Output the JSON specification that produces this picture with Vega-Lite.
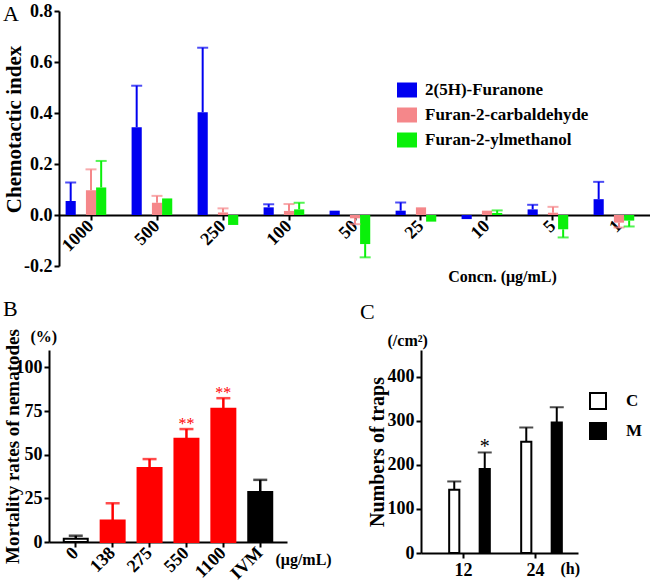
{
  "$schema": "https://vega.github.io/schema/vega-lite/v6.json",
  "padding": {"left": 1, "top": 2, "right": 0, "bottom": 0},
  "spacing": 14,
  "resolve": {"scale": {"color": "independent", "fill": "independent", "stroke": "independent"}, "legend": {"color": "independent", "fill": "independent", "stroke": "independent"}},
  "config": {
    "view": {"stroke": null},
    "font": "Liberation Serif",
    "axis": {
      "grid": false,
      "domainColor": "black", "domainWidth": 2,
      "tickColor": "black", "tickWidth": 2, "tickSize": 5,
      "labelFont": "Liberation Serif", "labelFontWeight": "bold", "labelFontSize": 18, "labelColor": "black", "labelPadding": 2,
      "titleFont": "Liberation Serif", "titleFontWeight": "bold", "titleFontSize": 19, "titleColor": "black",
      "zindex": 1
    },
    "legend": {"labelFont": "Liberation Serif", "labelFontWeight": "bold", "labelColor": "black", "labelLimit": 0},
    "title": {"font": "Liberation Serif", "fontWeight": "normal", "fontSize": 22, "color": "black", "anchor": "start"}
  },
  "vconcat": [
    {
      "spacing": 0,
      "resolve": {"scale": {"color": "independent"}},
      "hconcat": [
        {"width": 1, "height": 1, "data": {"values": []}, "mark": "point"},
        {
          "title": {"text": "A", "offset": -24},
          "width": 592, "height": 255,
          "data": {"values": [
            {"conc": "1000", "compound": "2(5H)-Furanone", "value": 0.055, "err": 0.127},
            {"conc": "1000", "compound": "Furan-2-carbaldehyde", "value": 0.097, "err": 0.179},
            {"conc": "1000", "compound": "Furan-2-ylmethanol", "value": 0.108, "err": 0.212},
            {"conc": "500", "compound": "2(5H)-Furanone", "value": 0.344, "err": 0.507},
            {"conc": "500", "compound": "Furan-2-carbaldehyde", "value": 0.048, "err": 0.075},
            {"conc": "500", "compound": "Furan-2-ylmethanol", "value": 0.065, "err": null},
            {"conc": "250", "compound": "2(5H)-Furanone", "value": 0.403, "err": 0.656},
            {"conc": "250", "compound": "Furan-2-carbaldehyde", "value": 0.010, "err": 0.026},
            {"conc": "250", "compound": "Furan-2-ylmethanol", "value": -0.039, "err": null},
            {"conc": "100", "compound": "2(5H)-Furanone", "value": 0.030, "err": 0.042},
            {"conc": "100", "compound": "Furan-2-carbaldehyde", "value": 0.016, "err": 0.043},
            {"conc": "100", "compound": "Furan-2-ylmethanol", "value": 0.022, "err": 0.048},
            {"conc": "50", "compound": "2(5H)-Furanone", "value": 0.017, "err": null},
            {"conc": "50", "compound": "Furan-2-carbaldehyde", "value": -0.013, "err": -0.036},
            {"conc": "50", "compound": "Furan-2-ylmethanol", "value": -0.114, "err": -0.166},
            {"conc": "25", "compound": "2(5H)-Furanone", "value": 0.017, "err": 0.049},
            {"conc": "25", "compound": "Furan-2-carbaldehyde", "value": 0.030, "err": null},
            {"conc": "25", "compound": "Furan-2-ylmethanol", "value": -0.026, "err": null},
            {"conc": "10", "compound": "2(5H)-Furanone", "value": -0.016, "err": null},
            {"conc": "10", "compound": "Furan-2-carbaldehyde", "value": 0.017, "err": null},
            {"conc": "10", "compound": "Furan-2-ylmethanol", "value": 0.008, "err": 0.018},
            {"conc": "5", "compound": "2(5H)-Furanone", "value": 0.022, "err": 0.040},
            {"conc": "5", "compound": "Furan-2-carbaldehyde", "value": 0.009, "err": 0.032},
            {"conc": "5", "compound": "Furan-2-ylmethanol", "value": -0.056, "err": -0.088},
            {"conc": "1", "compound": "2(5H)-Furanone", "value": 0.062, "err": 0.130},
            {"conc": "1", "compound": "Furan-2-carbaldehyde", "value": -0.030, "err": -0.049},
            {"conc": "1", "compound": "Furan-2-ylmethanol", "value": -0.022, "err": -0.045}
          ]},
          "encoding": {
            "x": {"field": "conc", "type": "nominal", "sort": ["1000","500","250","100","50","25","10","5","1"],
                  "scale": {"paddingInner": 0.23, "paddingOuter": 0.1},
                  "axis": {"offset": -51, "labelAngle": -45, "labelAlign": "right", "labelBaseline": "middle", "labelPadding": 3,
                           "title": "Concn. (μg/mL)", "titleX": 443, "titleY": 66, "titleBaseline": "alphabetic", "titleAlign": "center", "titleFontSize": 16}},
            "xOffset": {"field": "compound", "type": "nominal", "sort": ["2(5H)-Furanone","Furan-2-carbaldehyde","Furan-2-ylmethanol"], "scale": {"paddingInner": 0, "paddingOuter": 0}},
            "color": {"field": "compound", "type": "nominal",
                      "scale": {"domain": ["2(5H)-Furanone","Furan-2-carbaldehyde","Furan-2-ylmethanol"], "range": ["#0000F0","#F5878A","#0AF00A"]},
                      "legend": {"orient": "none", "legendX": 338, "legendY": 69, "title": null,
                                 "symbolType": "M-1,-0.75H1V0.75H-1Z", "symbolSize": 400, "symbolStrokeWidth": 0, "symbolOpacity": 1,
                                 "labelFontSize": 17, "labelOffset": 8, "rowPadding": 7}}
          },
          "layer": [
            {"mark": {"type": "bar"},
             "encoding": {"y": {"field": "value", "type": "quantitative", "scale": {"domain": [-0.2, 0.8], "nice": false},
                                "axis": {"values": [-0.2, 0, 0.2, 0.4, 0.6, 0.8],
                                         "labelExpr": "datum.value < 0 ? '-' + format(-datum.value, '.1f') : format(datum.value, '.1f')",
                                         "title": "Chemotactic index", "titleX": -35, "titleY": 118, "titleFontSize": 21}}}},
            {"transform": [{"filter": "datum.err != null"}],
             "mark": {"type": "rule", "strokeWidth": 2},
             "encoding": {"y": {"field": "value", "type": "quantitative"}, "y2": {"field": "err"}}},
            {"transform": [{"filter": "datum.err != null"}],
             "mark": {"type": "tick", "thickness": 2, "size": 11},
             "encoding": {"y": {"field": "err", "type": "quantitative"}}}
          ]
        }
      ]
    },
    {
      "spacing": 0,
      "resolve": {"scale": {"color": "independent", "fill": "independent", "stroke": "independent"}, "legend": {"color": "independent", "fill": "independent", "stroke": "independent"}},
      "hconcat": [
        {"width": 1, "height": 1, "data": {"values": []}, "mark": "point"},
        {
          "spacing": 28,
          "resolve": {"scale": {"color": "independent", "fill": "independent", "stroke": "independent"}, "legend": {"color": "independent", "fill": "independent", "stroke": "independent"}},
          "hconcat": [
            {
              "title": {"text": "B", "offset": 7},
              "width": 238, "height": 192,
              "data": {"values": [
                {"dose": "0", "grp": "control", "value": 1.9, "err": 3.6, "sig": null},
                {"dose": "138", "grp": "treated", "value": 12.3, "err": 22.2, "sig": null},
                {"dose": "275", "grp": "treated", "value": 42.4, "err": 47.5, "sig": null},
                {"dose": "550", "grp": "treated", "value": 59.2, "err": 64.7, "sig": "**"},
                {"dose": "1100", "grp": "treated", "value": 76.4, "err": 82.4, "sig": "**"},
                {"dose": "IVM", "grp": "IVM", "value": 28.7, "err": 35.6, "sig": null}
              ]},
              "resolve": {"axis": {"x": "independent"}},
              "layer": [
                {"mark": {"type": "bar", "strokeWidth": 2},
                 "encoding": {
                   "x": {"field": "dose", "type": "nominal", "sort": null, "scale": {"paddingInner": 0.35, "paddingOuter": 0.4},
                         "axis": {"labelAngle": -45, "labelAlign": "right", "labelBaseline": "middle", "labelPadding": 3,
                                  "title": "(μg/mL)", "titleX": 226, "titleY": 22, "titleAlign": "left", "titleBaseline": "alphabetic", "titleFontSize": 16}},
                   "y": {"field": "value", "type": "quantitative", "scale": {"domain": [0, 110], "nice": false},
                         "axis": {"values": [0, 25, 50, 75, 100], "title": "Mortality rates of nematodes", "titleX": -27, "titleFontSize": 19}},
                   "fill": {"field": "grp", "type": "nominal", "scale": {"domain": ["control","treated","IVM"], "range": ["white","#FF0000","black"]}, "legend": null},
                   "stroke": {"field": "grp", "type": "nominal", "scale": {"domain": ["control","treated","IVM"], "range": ["black","#FF0000","black"]}, "legend": null}
                 }},
                {"mark": {"type": "rule", "strokeWidth": 2.5},
                 "encoding": {
                   "x": {"field": "dose", "type": "nominal", "sort": null, "scale": {"paddingInner": 0.35, "paddingOuter": 0.4},
                         "axis": {"orient": "top", "domain": false, "ticks": false, "labels": false,
                                  "title": "(%)", "titleAngle": 0, "titleX": -19, "titleY": -9, "titleAlign": "left", "titleBaseline": "alphabetic", "titleFontSize": 16}},
                   "y": {"field": "value", "type": "quantitative", "axis": {"values": [0, 25, 50, 75, 100], "title": "Mortality rates of nematodes", "titleX": -27, "titleFontSize": 19}},
                   "y2": {"field": "err"},
                   "stroke": {"field": "grp", "type": "nominal", "legend": null}
                 }},
                {"mark": {"type": "tick", "thickness": 2.5, "size": 14},
                 "encoding": {
                   "x": {"field": "dose", "type": "nominal", "sort": null, "scale": {"paddingInner": 0.35, "paddingOuter": 0.4}, "axis": null},
                   "y": {"field": "err", "type": "quantitative", "axis": {"values": [0, 25, 50, 75, 100], "title": "Mortality rates of nematodes", "titleX": -27, "titleFontSize": 19}},
                   "color": {"field": "grp", "type": "nominal", "scale": {"domain": ["control","treated","IVM"], "range": ["black","#FF0000","black"]}, "legend": null}
                 }},
                {"transform": [{"filter": "datum.sig != null"}],
                 "mark": {"type": "text", "color": "#FF0000", "fontSize": 16, "baseline": "alphabetic", "dy": 0},
                 "encoding": {
                   "x": {"field": "dose", "type": "nominal", "sort": null, "scale": {"paddingInner": 0.35, "paddingOuter": 0.4}, "axis": null},
                   "y": {"field": "err", "type": "quantitative", "axis": {"values": [0, 25, 50, 75, 100], "title": "Mortality rates of nematodes", "titleX": -27, "titleFontSize": 19}},
                   "text": {"field": "sig"}
                 }}
              ]
            },
            {
              "title": {"text": "C", "offset": 8, "dx": -7},
              "width": 157, "height": 203,
              "data": {"values": [
                {"time": "12", "grp": "C", "value": 143.6, "err": 162.5, "sig": null},
                {"time": "12", "grp": "M", "value": 190.5, "err": 228.3, "sig": "*"},
                {"time": "24", "grp": "C", "value": 252.4, "err": 285, "sig": null},
                {"time": "24", "grp": "M", "value": 296.3, "err": 331, "sig": null}
              ]},
              "resolve": {"axis": {"x": "independent"}},
              "layer": [
                {"mark": {"type": "bar", "stroke": "black", "strokeWidth": 2},
                 "encoding": {
                   "x": {"field": "time", "type": "nominal", "sort": null, "scale": {"paddingInner": 0.32, "paddingOuter": 0.25},
                         "axis": {"labelAngle": 0, "labelAlign": "center", "labelBaseline": "top", "labelPadding": 3,
                                  "title": "(h)", "titleX": 139, "titleY": 20, "titleAlign": "left", "titleBaseline": "alphabetic", "titleFontSize": 16}},
                   "xOffset": {"field": "grp", "type": "nominal", "sort": ["C","M"], "scale": {"paddingInner": 0, "paddingOuter": 0}},
                   "y": {"field": "value", "type": "quantitative", "scale": {"domain": [0, 461], "nice": false},
                         "axis": {"values": [0, 100, 200, 300, 400], "title": "Numbers of traps", "titleX": -34, "titleFontSize": 20}},
                   "fill": {"field": "grp", "type": "nominal", "scale": {"domain": ["C","M"], "range": ["white","black"]},
                            "legend": {"orient": "none", "legendX": 168, "legendY": 42, "title": null, "symbolType": "square", "symbolSize": 256,
                                       "symbolStrokeColor": "black", "symbolStrokeWidth": 2, "labelFontSize": 17, "labelOffset": 19, "rowPadding": 6}}
                 }},
                {"mark": {"type": "rule", "strokeWidth": 2, "color": "black"},
                 "encoding": {
                   "x": {"field": "time", "type": "nominal", "sort": null, "scale": {"paddingInner": 0.32, "paddingOuter": 0.25},
                         "axis": {"orient": "top", "domain": false, "ticks": false, "labels": false,
                                  "title": "(/cm²)", "titleAngle": 0, "titleX": -34, "titleY": -5, "titleAlign": "left", "titleBaseline": "alphabetic", "titleFontSize": 16}},
                   "xOffset": {"field": "grp", "type": "nominal", "sort": ["C","M"], "scale": {"paddingInner": 0, "paddingOuter": 0}},
                   "y": {"field": "value", "type": "quantitative", "axis": {"values": [0, 100, 200, 300, 400], "title": "Numbers of traps", "titleX": -34, "titleFontSize": 20}},
                   "y2": {"field": "err"}
                 }},
                {"mark": {"type": "tick", "thickness": 2, "size": 14, "color": "black"},
                 "encoding": {
                   "x": {"field": "time", "type": "nominal", "sort": null, "scale": {"paddingInner": 0.32, "paddingOuter": 0.25}, "axis": null},
                   "xOffset": {"field": "grp", "type": "nominal", "sort": ["C","M"], "scale": {"paddingInner": 0, "paddingOuter": 0}},
                   "y": {"field": "err", "type": "quantitative", "axis": {"values": [0, 100, 200, 300, 400], "title": "Numbers of traps", "titleX": -34, "titleFontSize": 20}}
                 }},
                {"transform": [{"filter": "datum.sig != null"}],
                 "mark": {"type": "text", "color": "black", "fontSize": 20, "baseline": "alphabetic", "dy": 1},
                 "encoding": {
                   "x": {"field": "time", "type": "nominal", "sort": null, "scale": {"paddingInner": 0.32, "paddingOuter": 0.25}, "axis": null},
                   "xOffset": {"field": "grp", "type": "nominal", "sort": ["C","M"], "scale": {"paddingInner": 0, "paddingOuter": 0}},
                   "y": {"field": "err", "type": "quantitative", "axis": {"values": [0, 100, 200, 300, 400], "title": "Numbers of traps", "titleX": -34, "titleFontSize": 20}},
                   "text": {"field": "sig"}
                 }}
              ]
            }
          ]
        }
      ]
    }
  ]
}
